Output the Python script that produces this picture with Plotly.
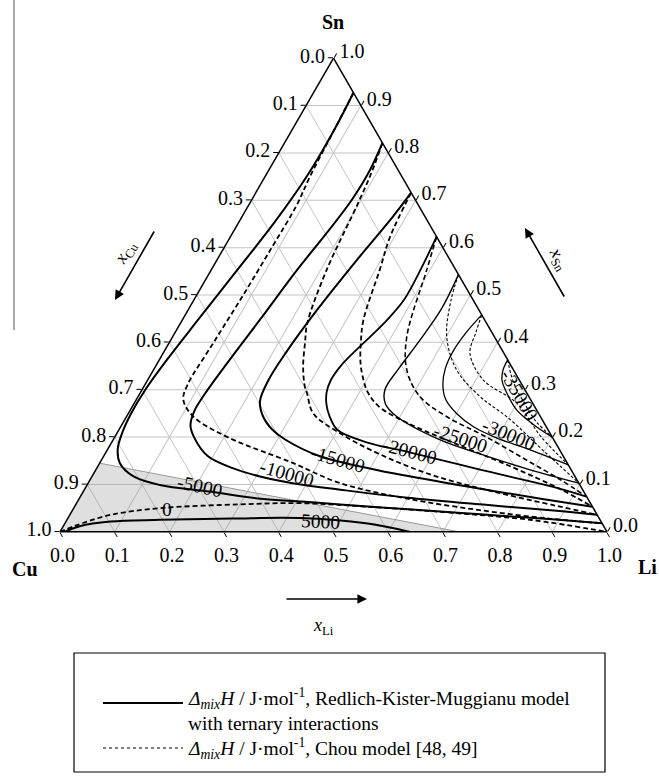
import plotly.graph_objects as go

W, H = 659, 776
FONT = "Liberation Serif"

# ---------------- data: (x_Li, x_Sn) along each curve
# Redlich-Kister-Muggianu model (solid)
rkm_m5000_li = [0.073, 0.077, 0.076, 0.065, 0.047, 0.029, 0.015, 0.006, 0.005, 0.009, 0.018, 0.037, 0.076, 0.133, 0.232, 0.332, 0.41, 0.483, 0.62, 0.75, 0.88, 0.982]
rkm_m5000_sn = [0.927, 0.85, 0.75, 0.65, 0.55, 0.45, 0.37, 0.30, 0.25, 0.21, 0.175, 0.145, 0.117, 0.099, 0.085, 0.070, 0.064, 0.058, 0.047, 0.037, 0.027, 0.018]
rkm_m10000_li = [0.179, 0.185, 0.183, 0.172, 0.157, 0.142, 0.128, 0.119, 0.118, 0.126, 0.145, 0.19, 0.25, 0.307, 0.39, 0.468, 0.60, 0.75, 0.88, 0.964]
rkm_m10000_sn = [0.821, 0.76, 0.70, 0.63, 0.553, 0.45, 0.36, 0.29, 0.255, 0.225, 0.20, 0.16, 0.134, 0.117, 0.10, 0.089, 0.072, 0.057, 0.045, 0.036]
rkm_m15000_li = [0.284, 0.276, 0.255, 0.236, 0.224, 0.221, 0.228, 0.25, 0.28, 0.314, 0.394, 0.48, 0.55, 0.70, 0.85, 0.947]
rkm_m15000_sn = [0.716, 0.666, 0.57, 0.47, 0.38, 0.32, 0.275, 0.243, 0.216, 0.195, 0.16, 0.138, 0.123, 0.095, 0.069, 0.053]
rkm_m20000_li = [0.377, 0.382, 0.384, 0.372, 0.352, 0.338, 0.335, 0.340, 0.352, 0.37, 0.40, 0.47, 0.555, 0.70, 0.85, 0.925]
rkm_m20000_sn = [0.623, 0.56, 0.49, 0.44, 0.39, 0.35, 0.32, 0.295, 0.27, 0.245, 0.215, 0.188, 0.168, 0.132, 0.096, 0.0745]
rkm_m25000_li = [0.457, 0.462, 0.455, 0.447, 0.444, 0.46, 0.494, 0.598, 0.70, 0.794, 0.897]
rkm_m25000_sn = [0.543, 0.47, 0.40, 0.345, 0.30, 0.27, 0.2434, 0.194, 0.16, 0.131, 0.103]
rkm_m30000_li = [0.542, 0.532, 0.528, 0.532, 0.545, 0.565, 0.60, 0.645, 0.70, 0.773, 0.8586]
rkm_m30000_sn = [0.458, 0.42, 0.38, 0.345, 0.31, 0.28, 0.25, 0.222, 0.198, 0.173, 0.1414]
rkm_m35000_li = [0.637, 0.639, 0.648, 0.664, 0.706, 0.760, 0.80]
rkm_m35000_sn = [0.363, 0.342, 0.32, 0.30, 0.2575, 0.222, 0.20]
rkm_p5000_li = [0.008, 0.03, 0.081, 0.17, 0.30, 0.424, 0.55, 0.64]
rkm_p5000_sn = [0.0, 0.012, 0.0217, 0.0253, 0.028, 0.029, 0.018, 0.0]

# Chou model (dashed)
chou_m5000_li = [0.073, 0.077, 0.082, 0.088, 0.087, 0.085, 0.081, 0.078, 0.086, 0.122, 0.204, 0.354, 0.460, 0.60, 0.75, 0.88, 0.982]
chou_m5000_sn = [0.927, 0.85, 0.75, 0.687, 0.60, 0.50, 0.40, 0.31, 0.279, 0.2434, 0.201, 0.145, 0.103, 0.07, 0.045, 0.028, 0.018]
chou_m10000_li = [0.179, 0.19, 0.198, 0.211, 0.232, 0.248, 0.270, 0.294, 0.305, 0.338, 0.408, 0.50, 0.62, 0.75, 0.88, 0.964]
chou_m10000_sn = [0.821, 0.76, 0.694, 0.553, 0.44, 0.40, 0.349, 0.307, 0.293, 0.25, 0.208, 0.165, 0.12, 0.085, 0.055, 0.036]
chou_m15000_li = [0.284, 0.292, 0.308, 0.331, 0.350, 0.372, 0.395, 0.415, 0.45, 0.52, 0.62, 0.75, 0.87, 0.947]
chou_m15000_sn = [0.716, 0.623, 0.553, 0.4475, 0.40, 0.355, 0.32, 0.295, 0.265, 0.23, 0.19, 0.14, 0.09, 0.053]
chou_m20000_li = [0.377, 0.394, 0.428, 0.463, 0.515, 0.585, 0.68, 0.78, 0.86, 0.925]
chou_m20000_sn = [0.623, 0.553, 0.412, 0.342, 0.2856, 0.2434, 0.20, 0.15, 0.11, 0.0745]
chou_m25000_li = [0.457, 0.47, 0.501, 0.554, 0.625, 0.70, 0.80, 0.897]
chou_m25000_sn = [0.543, 0.49, 0.412, 0.342, 0.2856, 0.24, 0.17, 0.103]
chou_m30000_li = [0.542, 0.55, 0.561, 0.613, 0.699, 0.78, 0.8586]
chou_m30000_sn = [0.458, 0.42, 0.377, 0.321, 0.2717, 0.20, 0.1414]
chou_m35000_li = [0.637, 0.66, 0.685, 0.71, 0.735, 0.76, 0.80]
chou_m35000_sn = [0.363, 0.33, 0.30, 0.275, 0.25, 0.228, 0.20]
chou_zero_li = [0.0, 0.02, 0.074, 0.158, 0.30, 0.408, 0.55, 0.70, 0.85, 1.0]
chou_zero_sn = [0.0, 0.012, 0.0359, 0.05, 0.058, 0.0606, 0.052, 0.04, 0.025, 0.0]

# shaded region
shade_li = [0.0, 0.0, 0.73, 0.0]
shade_sn = [0.0, 0.145, 0.0, 0.0]

# contour labels (text, x_Li, x_Sn, angle)
label_text = ["-5000", "0", "5000", "-10000", "-15000", "-20000", "-25000", "-30000", "-35000"]
label_li = [0.209, 0.171, 0.465, 0.353, 0.432, 0.555, 0.634, 0.718, 0.696]
label_sn = [0.0956, 0.048, 0.0211, 0.1224, 0.152, 0.169, 0.198, 0.205, 0.289]
label_angle = [12, 0, 3, 16, 16, 15, 18, 22, 60]

tick_vals = [i / 10 for i in range(11)]

# ---------------- geometry of the ternary domain (paper units)
DOM_X = [60 / W, 607 / W]
DOM_Y = [1 - 532 / H, 1 - 58 / H]


def tern_to_paper(li, sn):
    xw = DOM_X[1] - DOM_X[0]
    x = DOM_X[0] + xw * (li + sn / 2)
    y = DOM_Y[0] + (DOM_Y[1] - DOM_Y[0]) * sn
    return x, y


def px(x):
    return x / W


def py(y):
    return 1 - y / H


fig = go.Figure()


def add_curve(li, sn, dash, width):
    cu = [1 - a - b for a, b in zip(li, sn)]
    fig.add_trace(go.Scatterternary(
        a=sn, b=cu, c=li, mode="lines",
        line=dict(color="black", width=width, dash=dash, shape="spline", smoothing=1.0),
        hoverinfo="skip", showlegend=False))


# shading
shade_cu = [1 - a - b for a, b in zip(shade_li, shade_sn)]
fig.add_trace(go.Scatterternary(
    a=shade_sn, b=shade_cu, c=shade_li, mode="lines", fill="toself",
    fillcolor="rgba(150,150,150,0.30)", line=dict(color="#999999", width=1),
    hoverinfo="skip", showlegend=False))

solid = [(rkm_m5000_li, rkm_m5000_sn, 2), (rkm_m10000_li, rkm_m10000_sn, 2),
         (rkm_m15000_li, rkm_m15000_sn, 2), (rkm_m20000_li, rkm_m20000_sn, 1.8),
         (rkm_m25000_li, rkm_m25000_sn, 1.4), (rkm_m30000_li, rkm_m30000_sn, 1.3),
         (rkm_m35000_li, rkm_m35000_sn, 1.3), (rkm_p5000_li, rkm_p5000_sn, 2)]
for li, sn, w in solid:
    add_curve(li, sn, "solid", w)

dashed = [(chou_m5000_li, chou_m5000_sn, "5px,3px", 1.8), (chou_m10000_li, chou_m10000_sn, "5px,3px", 1.8),
          (chou_m15000_li, chou_m15000_sn, "5px,3px", 1.8), (chou_m20000_li, chou_m20000_sn, "5px,3px", 1.6),
          (chou_m25000_li, chou_m25000_sn, "3px,2px", 1.1), (chou_m30000_li, chou_m30000_sn, "3px,2px", 1.1),
          (chou_m35000_li, chou_m35000_sn, "3px,2px", 1.1), (chou_zero_li, chou_zero_sn, "5px,3px", 1.8)]
for li, sn, d, w in dashed:
    add_curve(li, sn, d, w)


def axis(ticktext):
    return dict(
        tickmode="array", tickvals=tick_vals, ticktext=ticktext,
        showgrid=True, gridcolor="#c4c4c4", gridwidth=1,
        showline=True, linecolor="black", linewidth=1.5,
        ticks="outside", ticklen=5, tickcolor="black", tickwidth=1,
        tickfont=dict(family=FONT, size=20, color="black"),
        title=dict(text=""), min=0)


rev = [f"{1 - v:.1f}" for v in tick_vals]
fig.update_layout(
    width=W, height=H, margin=dict(l=0, r=0, t=0, b=0),
    paper_bgcolor="white", showlegend=False,
    ternary=dict(sum=1, bgcolor="white",
                 domain=dict(x=DOM_X, y=DOM_Y),
                 aaxis=axis(rev), baxis=axis(rev), caxis=axis(rev)),
)


def text_ann(t, x, y, size=19, angle=0):
    return dict(x=x, y=y, xref="paper", yref="paper", text=t, showarrow=False,
                xanchor="center", yanchor="middle", textangle=angle,
                font=dict(family=FONT, size=size, color="black"))


ann = []
for t, li, sn, ang in zip(label_text, label_li, label_sn, label_angle):
    x, y = tern_to_paper(li, sn)
    ann.append(text_ann(t, x, y, 19.5, ang))

# corner labels
for t, x, y in [("<b>Sn</b>", 333, 22), ("<b>Cu</b>", 25, 569), ("<b>Li</b>", 647, 567)]:
    ann.append(text_ann(t, px(x), py(y), 20))

# axis arrows
for (tx, ty, ax, ay) in [(115, 300, 40, -70), (525, 228, 40, 70), (367, 599, -82, 0)]:
    ann.append(dict(x=px(tx), y=py(ty), xref="paper", yref="paper", ax=ax, ay=ay,
                    axref="pixel", ayref="pixel", text="", showarrow=True,
                    arrowhead=2, arrowsize=1.2, arrowwidth=1.6, arrowcolor="black"))
for t, x, y, ang in [("<i>x</i><sub>Cu</sub>", 126, 253, -60),
                     ("<i>x</i><sub>Sn</sub>", 558, 259, 60),
                     ("<i>x</i><sub>Li</sub>", 323, 626, 0)]:
    ann.append(text_ann(t, px(x), py(y), 18, ang))

# legend
delta = "<i>Δ</i><sub><i>mix</i></sub><i>H</i> / J·mol<sup>-1</sup>"
legend_lines = [(delta + ", Redlich-Kister-Muggianu model", 698),
                ("with ternary interactions", 723),
                (delta + ", Chou model [48, 49]", 748)]
for t, y in legend_lines:
    ann.append(dict(x=px(186), y=py(y), xref="paper", yref="paper", xanchor="left", yanchor="middle",
                    align="left", showarrow=False, text=t,
                    font=dict(family=FONT, size=19.5, color="black")))

shapes = [
    dict(type="rect", xref="paper", yref="paper", x0=px(74), x1=px(605), y0=py(653), y1=py(772),
         line=dict(color="black", width=1.2)),
    dict(type="line", xref="paper", yref="paper", x0=px(103), x1=px(183), y0=py(703), y1=py(703),
         line=dict(color="black", width=2)),
    dict(type="line", xref="paper", yref="paper", x0=px(103), x1=px(183), y0=py(748), y1=py(748),
         line=dict(color="black", width=1.2, dash="3px,3px")),
    dict(type="line", xref="paper", yref="paper", x0=px(14), x1=px(14), y0=py(0), y1=py(330),
         line=dict(color="#555555", width=1)),
]
fig.update_layout(annotations=ann, shapes=shapes)

fig.write_html("out.html")
